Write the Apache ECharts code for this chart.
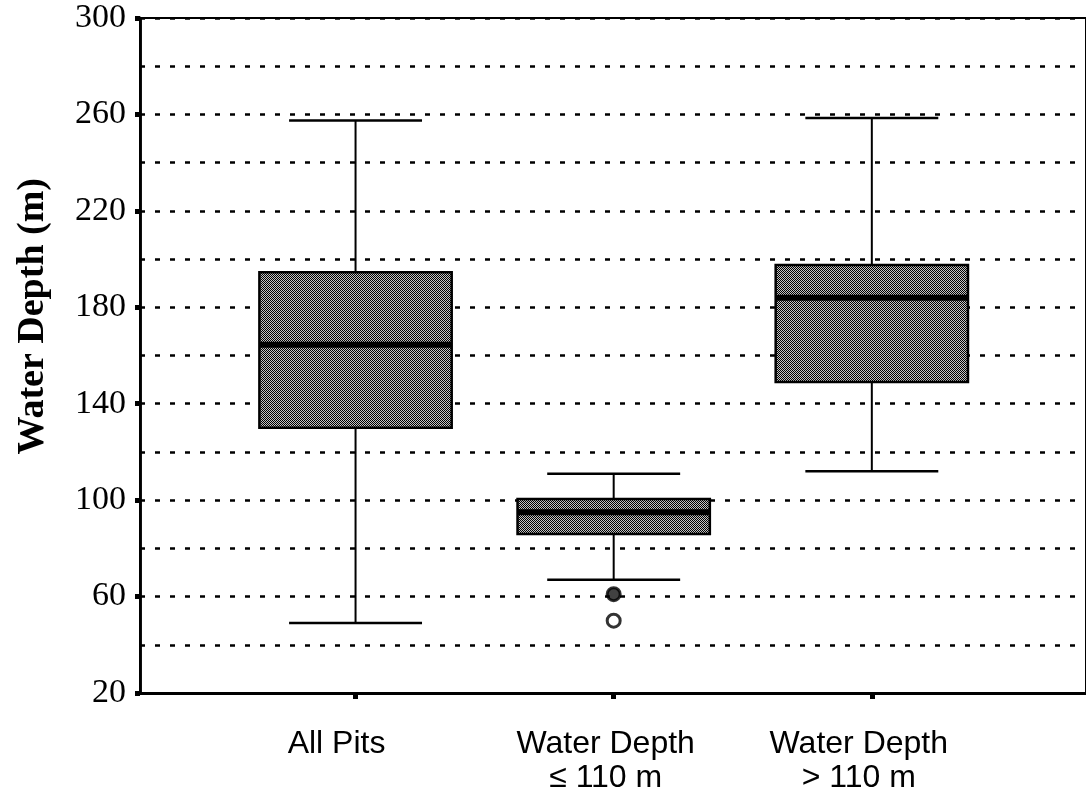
<!DOCTYPE html>
<html>
<head>
<meta charset="utf-8">
<script src="https://cdn.jsdelivr.net/npm/echarts@6/dist/echarts.min.js"></script>
<style>
html,body{margin:0;padding:0;background:#fff;}
#chart{width:1086px;height:794px;}
</style>
</head>
<body>
<div id="chart"></div>
<script>
// ---- data ----
const categories = ['All Pits', 'Water Depth\n≤ 110 m', 'Water Depth\n> 110 m'];
const positions = [1, 2, 3];
const whiskerLow = [49, 67, 112];
const q1 = [130, 86, 149];
const median = [164.5, 95, 184];
const q3 = [194.5, 100.5, 197.5];
const whiskerHigh = [257.5, 111, 258.5];
const outlierX = [2, 2];
const outlierY = [61, 50];
const yTickLabels = [20, 60, 100, 140, 180, 220, 260, 300];

const BOX_W = 0.745;
const CAP_W = 0.515;
const labelStyleKeys = ['a', 'b', 'c'];

// halftone-like pattern for boxes
const pc = document.createElement('canvas');
pc.width = 2; pc.height = 2;
const pctx = pc.getContext('2d');
pctx.fillStyle = '#c4c4c4'; pctx.fillRect(0, 0, 2, 2);
pctx.fillStyle = '#000000'; pctx.fillRect(0, 0, 1, 1); pctx.fillRect(1, 1, 1, 1);
const boxFill = { image: pc, repeat: 'repeat' };

const boxData = positions.map((p, i) => [p, whiskerLow[i], q1[i], median[i], q3[i], whiskerHigh[i]]);

const xFont = {
  fontFamily: 'Liberation Sans, Arial, sans-serif',
  fontSize: 32,
  color: '#000',
  lineHeight: 34
};

const chart = echarts.init(document.getElementById('chart'), null, { renderer: 'canvas' });

chart.setOption({
  animation: false,
  backgroundColor: '#fff',
  grid: {
    left: 140, top: 18, bottom: 100, right: -6,
    show: true, borderColor: '#000', borderWidth: 2, backgroundColor: 'transparent'
  },
  xAxis: {
    type: 'value',
    min: 0.165, max: 3.8297,
    axisLine: { show: true, lineStyle: { color: '#000', width: 3 } },
    axisTick: { show: true, customValues: positions, length: 6, lineStyle: { color: '#000', width: 5 } },
    splitLine: { show: false },
    axisLabel: {
      customValues: positions,
      formatter: v => {
        const i = Math.round(v) - 1;
        const k = labelStyleKeys[i];
        if (!k) return '';
        return categories[i].split('\n').map(s => '{' + k + '|' + s + '}').join('\n');
      },
      margin: 34,
      align: 'center',
      rich: {
        a: Object.assign({ padding: [0, 38, 0, 0] }, xFont),
        b: Object.assign({ padding: [0, 16, 0, 0] }, xFont),
        c: Object.assign({ padding: [0, 26, 0, 0] }, xFont)
      }
    }
  },
  yAxis: [{
    type: 'value',
    min: 20, max: 300, interval: 20,
    axisLine: { show: true, lineStyle: { color: '#000', width: 2.5 } },
    axisTick: { show: false },
    axisLabel: {
      formatter: v => ((v - 20) % 40 === 0 ? String(v) : ''),
      fontFamily: 'Liberation Serif, Times New Roman, serif',
      fontSize: 34,
      color: '#000',
      margin: 14
    },
    splitLine: { show: true, lineStyle: { color: '#000', width: 2.5, type: [5, 10] } }
  }, {
    type: 'value',
    position: 'left',
    offset: 0,
    min: 20, max: 300, interval: 20,
    axisLine: { show: true, lineStyle: { color: '#000', width: 2.5 } },
    axisTick: { show: true, customValues: yTickLabels, length: 5, lineStyle: { color: '#000', width: 5 } },
    axisLabel: { show: false },
    splitLine: { show: false }
  }],
  graphic: [{
    type: 'text',
    left: 14,
    top: 178,
    rotation: Math.PI / 2,
    style: {
      text: 'Water Depth (m)',
      font: 'bold 38px "Liberation Serif", "Times New Roman", serif',
      fill: '#000'
    }
  }],
  series: [
    {
      type: 'custom',
      data: boxData,
      encode: { x: 0, y: [1, 2, 3, 4, 5] },
      renderItem: function (params, api) {
        const x = api.value(0);
        const pLo = api.coord([x, api.value(1)]);
        const pQ1 = api.coord([x, api.value(2)]);
        const pMed = api.coord([x, api.value(3)]);
        const pQ3 = api.coord([x, api.value(4)]);
        const pHi = api.coord([x, api.value(5)]);
        const bh = api.size([BOX_W, 0])[0] / 2;
        const ch = api.size([CAP_W, 0])[0] / 2;
        const cx = pLo[0];
        const ls = { stroke: '#000', lineWidth: 2 };
        return {
          type: 'group',
          children: [
            { type: 'line', shape: { x1: cx, y1: pLo[1], x2: cx, y2: pQ1[1] }, style: ls },
            { type: 'line', shape: { x1: cx, y1: pQ3[1], x2: cx, y2: pHi[1] }, style: ls },
            { type: 'line', shape: { x1: cx - ch, y1: pLo[1], x2: cx + ch, y2: pLo[1] }, style: { stroke: '#000', lineWidth: 2.5 } },
            { type: 'line', shape: { x1: cx - ch, y1: pHi[1], x2: cx + ch, y2: pHi[1] }, style: { stroke: '#000', lineWidth: 2.5 } },
            { type: 'rect', shape: { x: cx - bh, y: pQ3[1], width: 2 * bh, height: pQ1[1] - pQ3[1] },
              style: { fill: boxFill, stroke: '#000', lineWidth: 2.5 } },
            { type: 'line', shape: { x1: cx - bh, y1: pMed[1], x2: cx + bh, y2: pMed[1] }, style: { stroke: '#000', lineWidth: 6 } }
          ]
        };
      },
      z: 5
    },
    {
      type: 'scatter',
      data: outlierX.map((x, i) => ({
        value: [x, outlierY[i]],
        itemStyle: { color: i === 0 ? '#111' : '#fff', borderColor: '#000', borderWidth: 3 }
      })),
      symbol: 'circle',
      symbolSize: 13,
      z: 6
    }
  ]
});
</script>
</body>
</html>
